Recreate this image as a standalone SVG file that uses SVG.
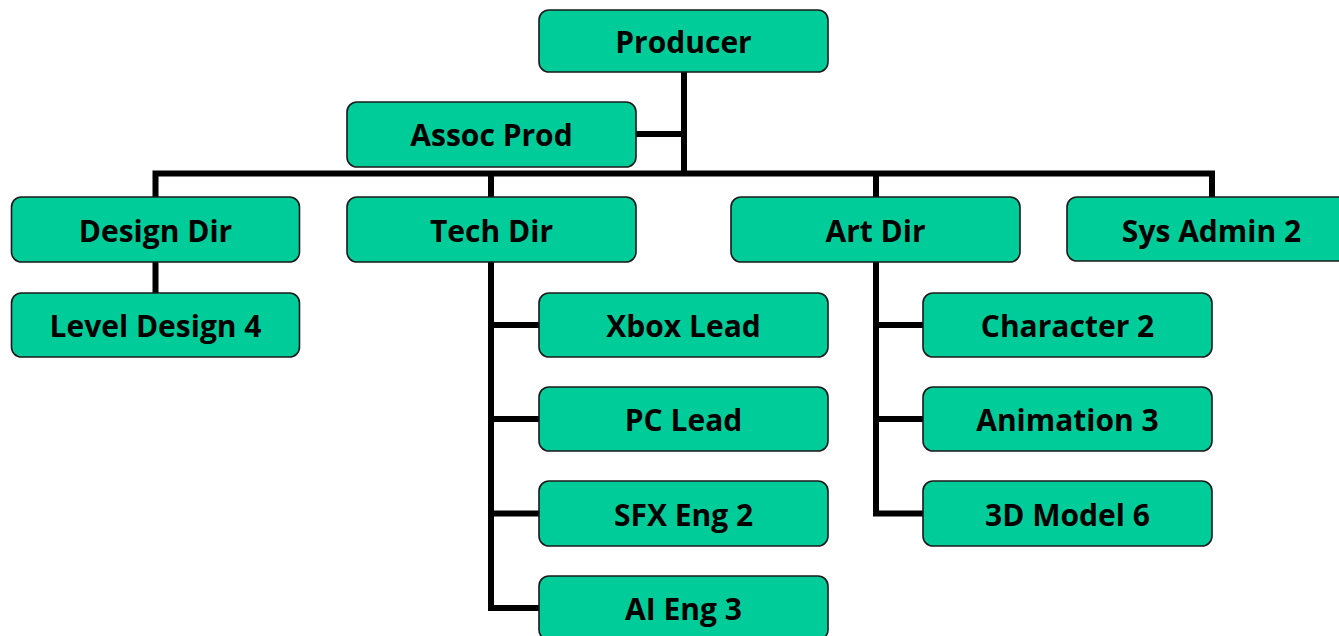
<svg xmlns="http://www.w3.org/2000/svg" width="1339" height="636" viewBox="0 0 1339 636">
  <style>
    .box { fill: #00CC99; stroke: #1a1a1a; stroke-width: 1.6; }
    .lbl { font-family: "Open Sans", "Liberation Sans", sans-serif; font-weight: 700; font-size: 30px; fill: #000; text-anchor: middle; }
    .wire { fill: none; stroke: #000; stroke-width: 6; stroke-linejoin: miter; stroke-linecap: butt; }
  </style>
  <rect width="1339" height="636" fill="#fff"/>

  <!-- connectors -->
  <g id="connectors">
    <path class="wire" d="M684,72 V173.5"/>
    <path class="wire" d="M636,134 H684"/>
    <path class="wire" d="M155.5,197 V173.5 H1212 V197"/>
    <path class="wire" d="M491,173.5 V197"/>
    <path class="wire" d="M876,173.5 V197"/>
    <path class="wire" d="M155.5,262 V293"/>
    <path class="wire" d="M491,262 V608 H539"/>
    <path class="wire" d="M491,325 H539 M491,419 H539 M491,513.5 H539"/>
    <path class="wire" d="M876,262 V513.5 H923"/>
    <path class="wire" d="M876,325 H923 M876,419 H923"/>
  </g>

  <g id="producer"><rect class="box" x="539" y="10" width="289" height="62" rx="10"/><text class="lbl" x="683.5" y="52.5">Producer</text></g>
  <g id="assoc-prod"><rect class="box" x="347" y="102" width="289" height="65" rx="10"/><text class="lbl" x="491.5" y="145.5">Assoc Prod</text></g>

  <g id="design-dir"><rect class="box" x="11.5" y="197" width="288" height="65" rx="10"/><text class="lbl" x="155.5" y="241.5">Design Dir</text></g>
  <g id="tech-dir"><rect class="box" x="347" y="197" width="289" height="65" rx="10"/><text class="lbl" x="491.5" y="241.5">Tech Dir</text></g>
  <g id="art-dir"><rect class="box" x="731" y="197" width="289" height="65" rx="10"/><text class="lbl" x="875.5" y="241.5">Art Dir</text></g>
  <g id="sys-admin"><rect class="box" x="1067" y="197" width="289" height="64" rx="10"/><text class="lbl" x="1211.5" y="241.5">Sys Admin 2</text></g>

  <g id="level-design"><rect class="box" x="11.5" y="293" width="288" height="64" rx="10"/><text class="lbl" x="155.5" y="336.5">Level Design 4</text></g>

  <g id="xbox-lead"><rect class="box" x="539" y="293" width="289" height="64" rx="10"/><text class="lbl" x="683.5" y="336.5">Xbox Lead</text></g>
  <g id="pc-lead"><rect class="box" x="539" y="387" width="289" height="64" rx="10"/><text class="lbl" x="683.5" y="430.5">PC Lead</text></g>
  <g id="sfx-eng"><rect class="box" x="539" y="481" width="289" height="65" rx="10"/><text class="lbl" x="683.5" y="525.5">SFX Eng 2</text></g>
  <g id="ai-eng"><rect class="box" x="539" y="576" width="289" height="64" rx="10"/><text class="lbl" x="683.5" y="619.5">AI Eng 3</text></g>

  <g id="character"><rect class="box" x="923" y="293" width="289" height="64" rx="10"/><text class="lbl" x="1067.5" y="336.5">Character 2</text></g>
  <g id="animation"><rect class="box" x="923" y="387" width="289" height="64" rx="10"/><text class="lbl" x="1067.5" y="430.5">Animation 3</text></g>
  <g id="model-3d"><rect class="box" x="923" y="481" width="289" height="65" rx="10"/><text class="lbl" x="1067.5" y="525.5">3D Model 6</text></g>
</svg>
